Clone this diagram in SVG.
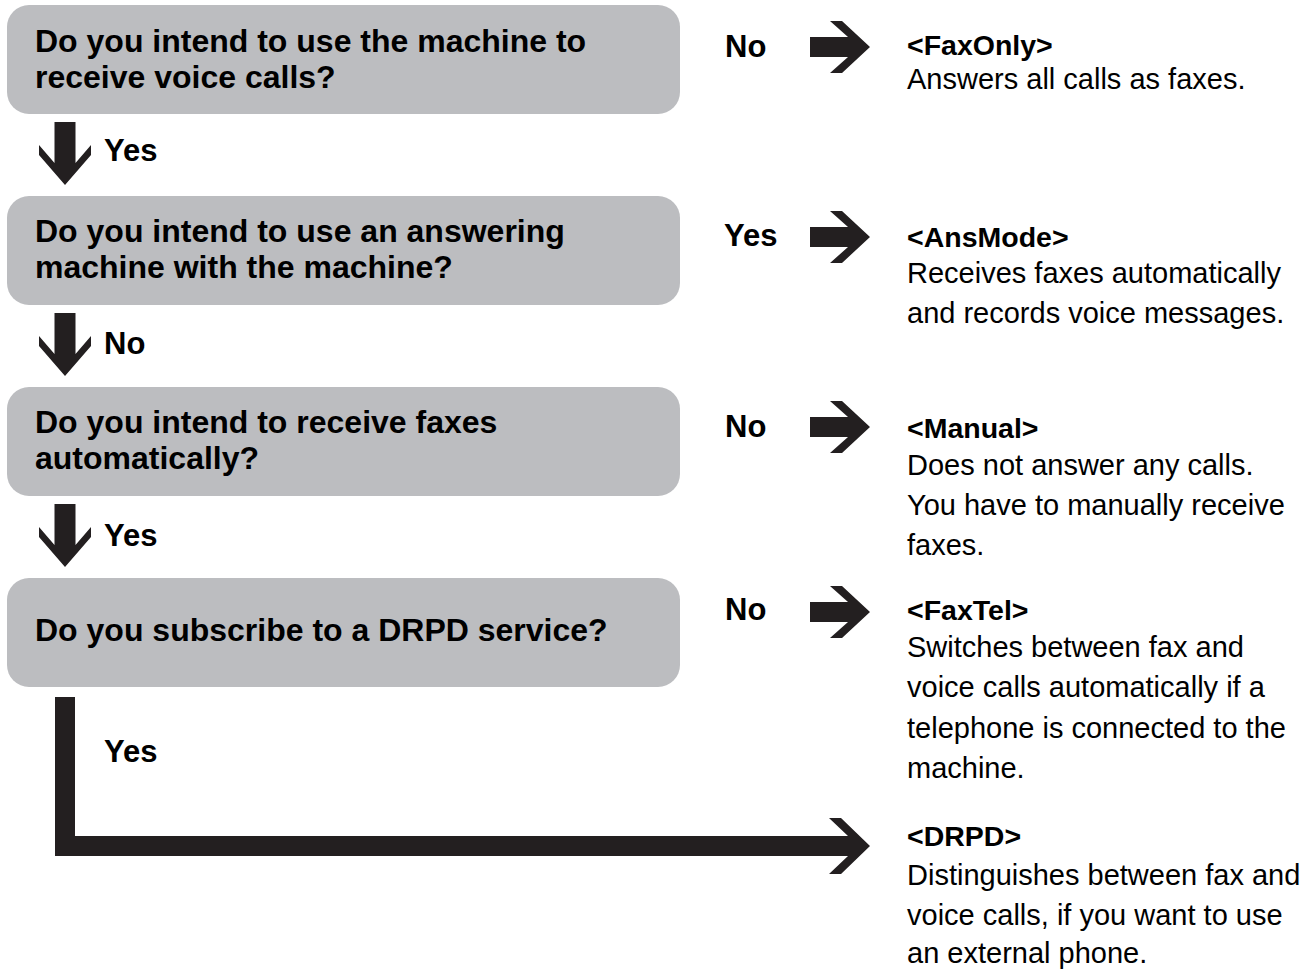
<svg xmlns="http://www.w3.org/2000/svg" width="1310" height="970" viewBox="0 0 1310 970">
<style>
.box{fill:#bcbdc0}
.q{font-family:"Liberation Sans",Arial,sans-serif;font-weight:bold;font-size:32px;fill:#000}
.lbl{font-family:"Liberation Sans",Arial,sans-serif;font-weight:bold;font-size:31px;fill:#000}
.h{font-family:"Liberation Sans",Arial,sans-serif;font-weight:bold;font-size:28.5px;fill:#000}
.d{font-family:"Liberation Sans",Arial,sans-serif;font-size:29px;fill:#000}
.arr{fill:#231f20}
</style>
<defs>
<path id="rarr" d="M-60,-10 L-22,-10 L-40,-26 L-28,-26 L0,0 L-28,26 L-40,26 L-22,10 L-60,10 Z"/>
<path id="darr" d="M-10.5,-63 L10.5,-63 L10.5,-22 L26,-40 L26,-30 L0,0 L-26,-30 L-26,-40 L-10.5,-22 Z"/>
</defs>
<rect width="1310" height="970" fill="#fff"/>
<g id="q1"><rect class="box" x="7" y="5" width="673" height="109" rx="22"/><text class="q" x="35" y="52">Do you intend to use the machine to</text><text class="q" x="35" y="88">receive voice calls?</text></g>
<g id="q2"><rect class="box" x="7" y="196" width="673" height="109" rx="22"/><text class="q" x="35" y="242">Do you intend to use an answering</text><text class="q" x="35" y="278">machine with the machine?</text></g>
<g id="q3"><rect class="box" x="7" y="387" width="673" height="109" rx="22"/><text class="q" x="35" y="433">Do you intend to receive faxes</text><text class="q" x="35" y="469">automatically?</text></g>
<g id="q4"><rect class="box" x="7" y="578" width="673" height="109" rx="22"/><text class="q" x="35" y="641">Do you subscribe to a DRPD service?</text></g>
<g id="r1"><text class="h" x="907" y="55">&lt;FaxOnly&gt;</text><text class="d" x="907" y="89">Answers all calls as faxes.</text></g>
<g id="r2"><text class="h" x="907" y="247">&lt;AnsMode&gt;</text><text class="d" x="907" y="283">Receives faxes automatically</text><text class="d" x="907" y="323">and records voice messages.</text></g>
<g id="r3"><text class="h" x="907" y="438">&lt;Manual&gt;</text><text class="d" x="907" y="475">Does not answer any calls.</text><text class="d" x="907" y="515">You have to manually receive</text><text class="d" x="907" y="555">faxes.</text></g>
<g id="r4"><text class="h" x="907" y="620">&lt;FaxTel&gt;</text><text class="d" x="907" y="657">Switches between fax and</text><text class="d" x="907" y="697">voice calls automatically if a</text><text class="d" x="907" y="738">telephone is connected to the</text><text class="d" x="907" y="778">machine.</text></g>
<g id="r5"><text class="h" x="907" y="846">&lt;DRPD&gt;</text><text class="d" x="907" y="885">Distinguishes between fax and</text><text class="d" x="907" y="925">voice calls, if you want to use</text><text class="d" x="907" y="963">an external phone.</text></g>
<g id="connectors">
<use href="#darr" class="arr" x="65" y="185"/>
<use href="#darr" class="arr" x="65" y="376"/>
<use href="#darr" class="arr" x="65" y="567"/>
<use href="#rarr" class="arr" x="870" y="47"/>
<use href="#rarr" class="arr" x="870" y="237"/>
<use href="#rarr" class="arr" x="870" y="427"/>
<use href="#rarr" class="arr" x="870" y="612"/>
<path class="arr" d="M55,697 L75,697 L75,836 L848,836 L829,818 L841,818 L870,846 L841,874 L829,874 L848,856 L55,856 Z"/>
<text class="lbl" x="104" y="161">Yes</text>
<text class="lbl" x="104" y="354">No</text>
<text class="lbl" x="104" y="546">Yes</text>
<text class="lbl" x="104" y="762">Yes</text>
<text class="lbl" x="725" y="57">No</text>
<text class="lbl" x="724" y="246">Yes</text>
<text class="lbl" x="725" y="437">No</text>
<text class="lbl" x="725" y="620">No</text>
</g>
</svg>
